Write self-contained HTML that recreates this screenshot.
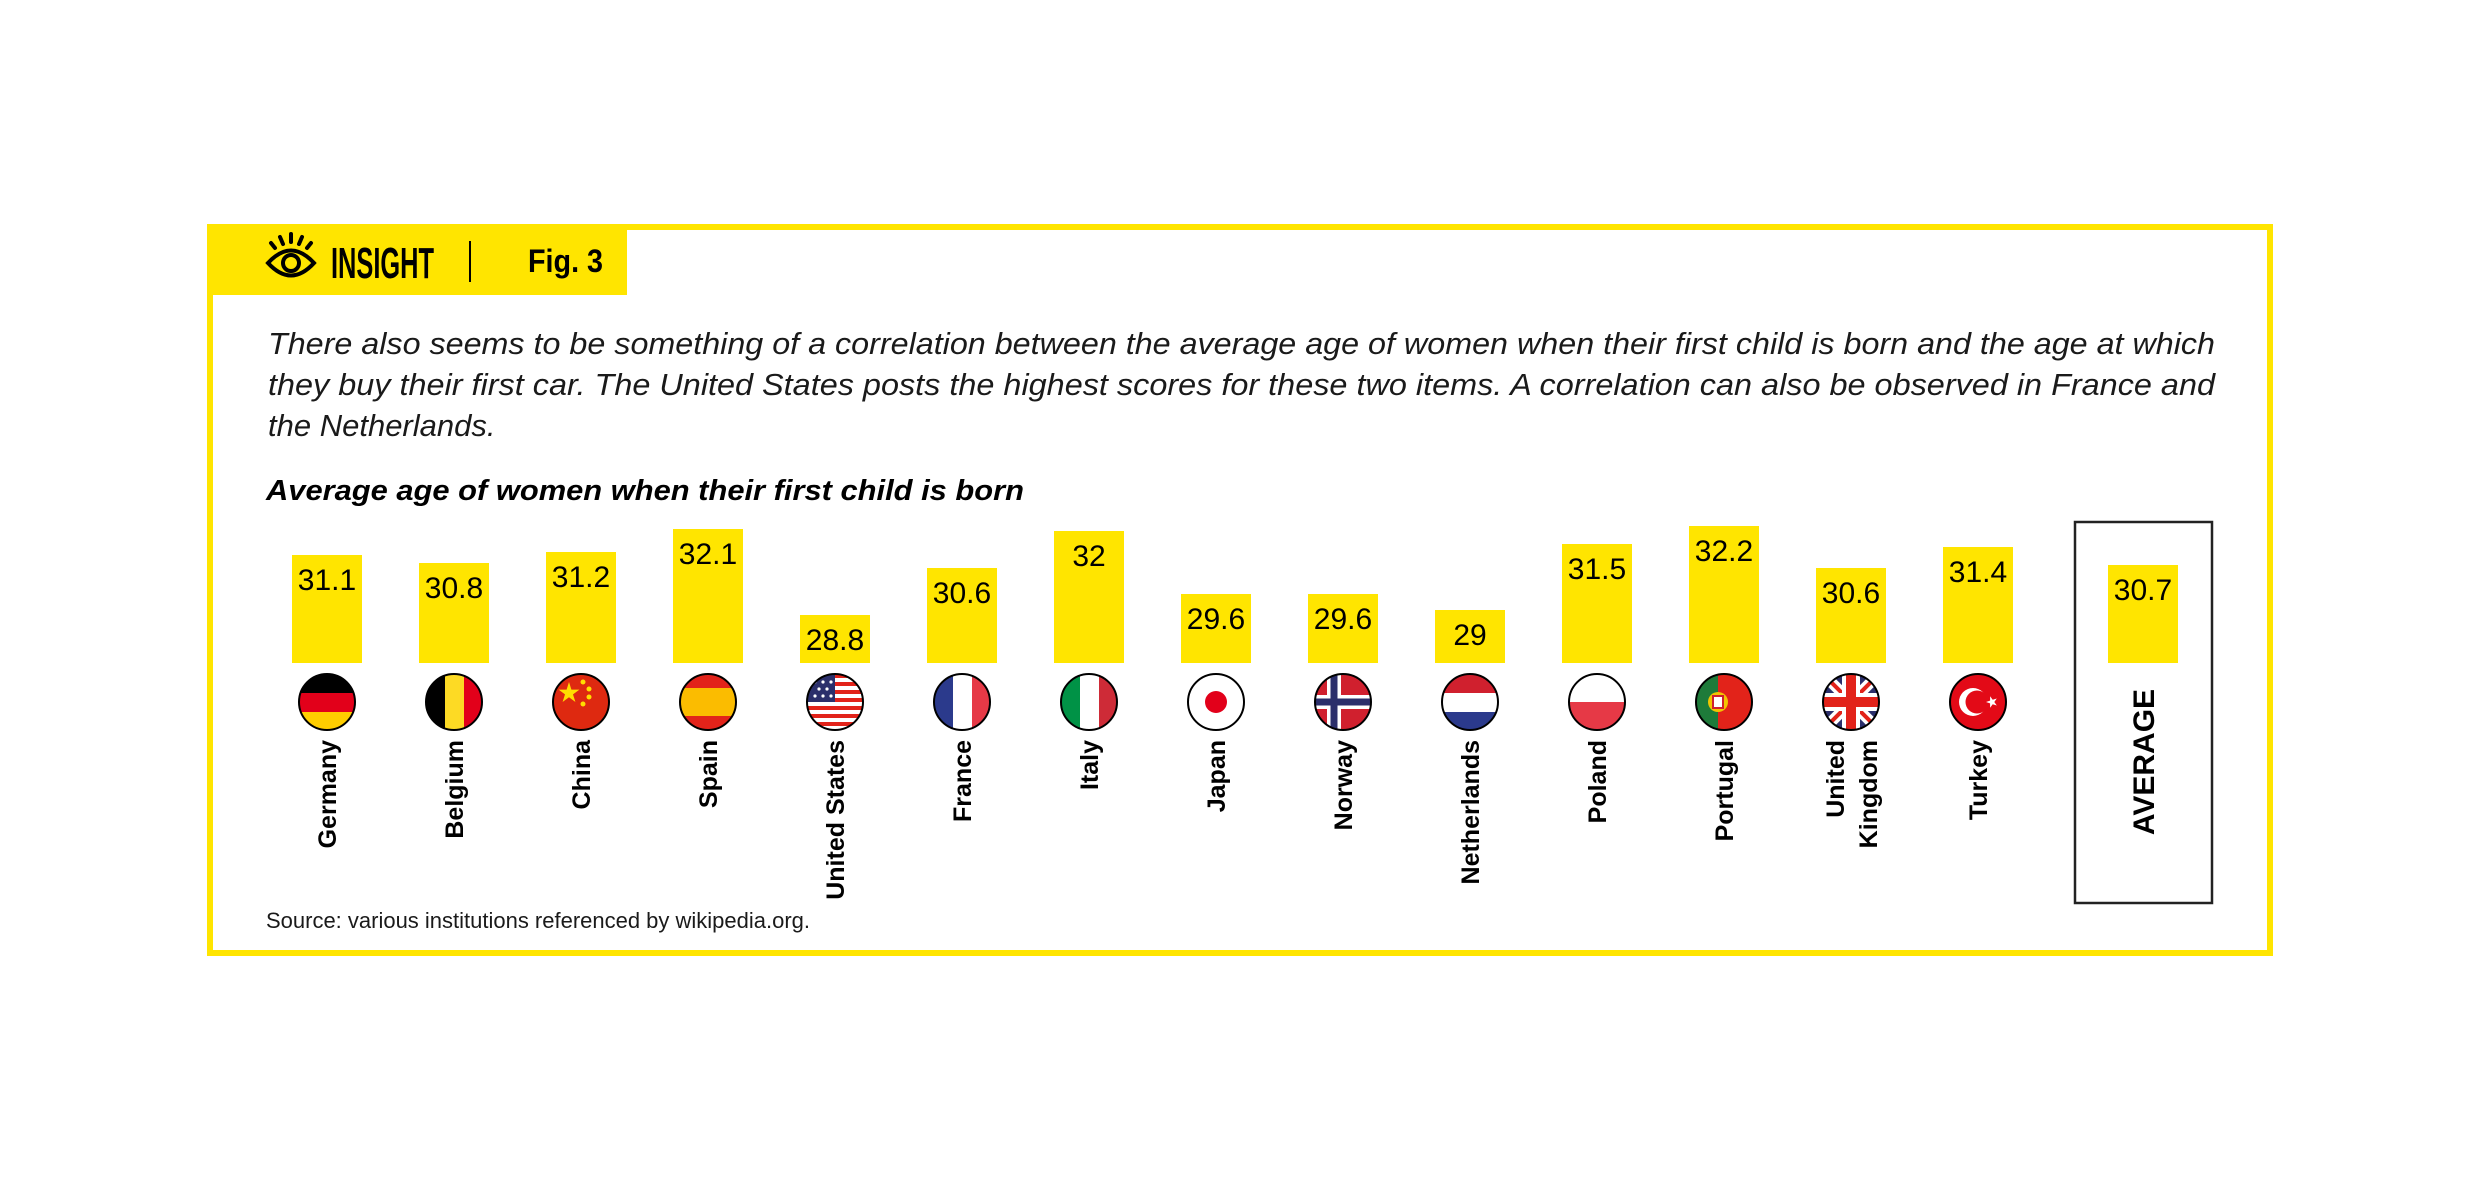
<!DOCTYPE html>
<html><head><meta charset="utf-8"><style>html,body{margin:0;padding:0;background:#fff}svg{display:block}</style></head>
<body>
<svg width="2480" height="1181" viewBox="0 0 2480 1181" xmlns="http://www.w3.org/2000/svg" font-family="Liberation Sans, sans-serif">
<defs><clipPath id="c"><circle cx="0" cy="0" r="28"/></clipPath></defs>
<rect width="2480" height="1181" fill="#fff"/>
<rect x="210" y="227" width="2060" height="726" fill="none" stroke="#FFE500" stroke-width="6"/>
<rect x="207" y="224" width="420" height="71" fill="#FFE500"/>
<g fill="none" stroke="#000" stroke-width="4" stroke-linecap="round">
<path d="M268 263 Q291 238 314 263 Q291 288 268 263 Z"/>
<circle cx="291" cy="263" r="8"/>
<line x1="291" y1="234" x2="291" y2="242"/><line x1="280" y1="237" x2="283" y2="244"/><line x1="302" y1="237" x2="299" y2="244"/><line x1="271" y1="243" x2="275" y2="248"/><line x1="311" y1="243" x2="307" y2="248"/>
</g>
<text x="331" y="278" font-size="44" font-weight="bold" textLength="103" lengthAdjust="spacingAndGlyphs" fill="#000">INSIGHT</text>
<line x1="470" y1="241" x2="470" y2="282" stroke="#000" stroke-width="2"/>
<text x="528" y="272" font-size="32" font-weight="bold" textLength="75" lengthAdjust="spacingAndGlyphs" fill="#000">Fig. 3</text>
<g font-style="italic" font-size="31" fill="#1a1a1a">
<text x="268" y="354" textLength="1947" lengthAdjust="spacingAndGlyphs">There also seems to be something of a correlation between the average age of women when their first child is born and the age at which</text>
<text x="268" y="395" textLength="1947" lengthAdjust="spacingAndGlyphs">they buy their first car. The United States posts the highest scores for these two items. A correlation can also be observed in France and</text>
<text x="268" y="436">the Netherlands.</text>
</g>
<text x="266" y="500" font-size="29" font-weight="bold" font-style="italic" textLength="758" lengthAdjust="spacingAndGlyphs" fill="#000">Average age of women when their first child is born</text>
<rect x="2075" y="522" width="137" height="381" fill="none" stroke="#222" stroke-width="2.5"/>
<g fill="#FFE500">
<rect x="292" y="555" width="70" height="108"/>
<rect x="419" y="563" width="70" height="100"/>
<rect x="546" y="552" width="70" height="111"/>
<rect x="673" y="529" width="70" height="134"/>
<rect x="800" y="615" width="70" height="48"/>
<rect x="927" y="568" width="70" height="95"/>
<rect x="1054" y="531" width="70" height="132"/>
<rect x="1181" y="594" width="70" height="69"/>
<rect x="1308" y="594" width="70" height="69"/>
<rect x="1435" y="610" width="70" height="53"/>
<rect x="1562" y="544" width="70" height="119"/>
<rect x="1689" y="526" width="70" height="137"/>
<rect x="1816" y="568" width="70" height="95"/>
<rect x="1943" y="547" width="70" height="116"/>
<rect x="2108" y="565" width="70" height="98"/>
</g>
<g font-size="30" text-anchor="middle" fill="#000">
<text x="327" y="590">31.1</text>
<text x="454" y="598">30.8</text>
<text x="581" y="587">31.2</text>
<text x="708" y="564">32.1</text>
<text x="835" y="650">28.8</text>
<text x="962" y="603">30.6</text>
<text x="1089" y="566">32</text>
<text x="1216" y="629">29.6</text>
<text x="1343" y="629">29.6</text>
<text x="1470" y="645">29</text>
<text x="1597" y="579">31.5</text>
<text x="1724" y="561">32.2</text>
<text x="1851" y="603">30.6</text>
<text x="1978" y="582">31.4</text>
<text x="2143" y="600">30.7</text>
</g>
<g transform="translate(327,702)"><g clip-path="url(#c)"><rect x="-28" y="-28" width="56" height="19" fill="#000"/><rect x="-28" y="-9" width="56" height="19" fill="#E2001A"/><rect x="-28" y="10" width="56" height="18" fill="#FFCE00"/></g><circle r="28" fill="none" stroke="#000" stroke-width="2"/></g>
<g transform="translate(454,702)"><g clip-path="url(#c)"><rect x="-28" y="-28" width="19" height="56" fill="#000"/><rect x="-9" y="-28" width="19" height="56" fill="#FDDA24"/><rect x="10" y="-28" width="18" height="56" fill="#E2001A"/></g><circle r="28" fill="none" stroke="#000" stroke-width="2"/></g>
<g transform="translate(581,702)"><g clip-path="url(#c)"><rect x="-28" y="-28" width="56" height="56" fill="#DE2910"/><polygon points="-12,-20 -9.6,-12.4 -1.6,-12.4 -8,-7.6 -5.6,0 -12,-4.8 -18.4,0 -16,-7.6 -22.4,-12.4 -14.4,-12.4" fill="#FFDE00"/><circle cx="2" cy="-20" r="2.5" fill="#FFDE00"/><circle cx="8" cy="-13" r="2.5" fill="#FFDE00"/><circle cx="8" cy="-5" r="2.5" fill="#FFDE00"/><circle cx="2" cy="2" r="2.5" fill="#FFDE00"/></g><circle r="28" fill="none" stroke="#000" stroke-width="2"/></g>
<g transform="translate(708,702)"><g clip-path="url(#c)"><rect x="-28" y="-28" width="56" height="56" fill="#E2231A"/><rect x="-28" y="-14" width="56" height="28" fill="#FBBC00"/></g><circle r="28" fill="none" stroke="#000" stroke-width="2"/></g>
<g transform="translate(835,702)"><g clip-path="url(#c)"><rect x="-28" y="-28" width="56" height="56" fill="#fff"/><rect x="-28" y="-28" width="56" height="4" fill="#E2231A"/><rect x="-28" y="-20" width="56" height="4" fill="#E2231A"/><rect x="-28" y="-12" width="56" height="4" fill="#E2231A"/><rect x="-28" y="-4" width="56" height="4" fill="#E2231A"/><rect x="-28" y="4" width="56" height="4" fill="#E2231A"/><rect x="-28" y="12" width="56" height="4" fill="#E2231A"/><rect x="-28" y="20" width="56" height="4" fill="#E2231A"/><rect x="-28" y="-28" width="28" height="28" fill="#2B2F6B"/><g fill="#fff"><circle cx="-20" cy="-20" r="1.6"/><circle cx="-12" cy="-20" r="1.6"/><circle cx="-4" cy="-20" r="1.6"/><circle cx="-16" cy="-13" r="1.6"/><circle cx="-8" cy="-13" r="1.6"/><circle cx="-20" cy="-6" r="1.6"/><circle cx="-12" cy="-6" r="1.6"/><circle cx="-4" cy="-6" r="1.6"/></g></g><circle r="28" fill="none" stroke="#000" stroke-width="2"/></g>
<g transform="translate(962,702)"><g clip-path="url(#c)"><rect x="-28" y="-28" width="19" height="56" fill="#2B3A8C"/><rect x="-9" y="-28" width="19" height="56" fill="#fff"/><rect x="10" y="-28" width="18" height="56" fill="#E63946"/></g><circle r="28" fill="none" stroke="#000" stroke-width="2"/></g>
<g transform="translate(1089,702)"><g clip-path="url(#c)"><rect x="-28" y="-28" width="19" height="56" fill="#009246"/><rect x="-9" y="-28" width="19" height="56" fill="#fff"/><rect x="10" y="-28" width="18" height="56" fill="#CE2B37"/></g><circle r="28" fill="none" stroke="#000" stroke-width="2"/></g>
<g transform="translate(1216,702)"><circle r="28" fill="#fff"/><circle r="11" fill="#E2001A"/><circle r="28" fill="none" stroke="#000" stroke-width="2"/></g>
<g transform="translate(1343,702)"><g clip-path="url(#c)"><rect x="-28" y="-28" width="56" height="56" fill="#D0202E"/><rect x="-16" y="-28" width="14" height="56" fill="#fff"/><rect x="-28" y="-7" width="56" height="14" fill="#fff"/><rect x="-12.5" y="-28" width="7" height="56" fill="#2B2F6B"/><rect x="-28" y="-3.5" width="56" height="7" fill="#2B2F6B"/></g><circle r="28" fill="none" stroke="#000" stroke-width="2"/></g>
<g transform="translate(1470,702)"><g clip-path="url(#c)"><rect x="-28" y="-28" width="56" height="19" fill="#D0202E"/><rect x="-28" y="-9" width="56" height="19" fill="#fff"/><rect x="-28" y="10" width="56" height="18" fill="#2B3A8C"/></g><circle r="28" fill="none" stroke="#000" stroke-width="2"/></g>
<g transform="translate(1597,702)"><g clip-path="url(#c)"><rect x="-28" y="-28" width="56" height="28" fill="#fff"/><rect x="-28" y="0" width="56" height="28" fill="#E63946"/></g><circle r="28" fill="none" stroke="#000" stroke-width="2"/></g>
<g transform="translate(1724,702)"><g clip-path="url(#c)"><rect x="-28" y="-28" width="56" height="56" fill="#E2231A"/><rect x="-28" y="-28" width="22" height="56" fill="#1E7B3A"/><circle cx="-6" cy="0" r="10" fill="#F2C500"/><rect x="-11" y="-6" width="10" height="12" fill="#fff" stroke="#D0202E" stroke-width="2"/></g><circle r="28" fill="none" stroke="#000" stroke-width="2"/></g>
<g transform="translate(1851,702)"><g clip-path="url(#c)"><rect x="-28" y="-28" width="56" height="56" fill="#2B2F6B"/><line x1="-28" y1="-28" x2="28" y2="28" stroke="#fff" stroke-width="11"/><line x1="28" y1="-28" x2="-28" y2="28" stroke="#fff" stroke-width="11"/><line x1="-28" y1="-28" x2="28" y2="28" stroke="#E2231A" stroke-width="4"/><line x1="28" y1="-28" x2="-28" y2="28" stroke="#E2231A" stroke-width="4"/><rect x="-9" y="-28" width="18" height="56" fill="#fff"/><rect x="-28" y="-9" width="56" height="18" fill="#fff"/><rect x="-5" y="-28" width="10" height="56" fill="#E2231A"/><rect x="-28" y="-5" width="56" height="10" fill="#E2231A"/></g><circle r="28" fill="none" stroke="#000" stroke-width="2"/></g>
<g transform="translate(1978,702)"><circle r="28" fill="#E30A17"/><circle cx="-5" cy="0" r="14" fill="#fff"/><circle cx="-1" cy="0" r="11.5" fill="#E30A17"/><polygon points="14,-6 15.4,-1.9 19.7,-1.9 16.2,0.7 17.5,4.8 14,2.3 10.5,4.8 11.8,0.7 8.3,-1.9 12.6,-1.9" fill="#fff" transform="rotate(-90 14 0)"/><circle r="28" fill="none" stroke="#000" stroke-width="2"/></g>
<g font-size="25" font-weight="bold" text-anchor="end" fill="#000">
<text transform="translate(336,740) rotate(-90)">Germany</text>
<text transform="translate(463,740) rotate(-90)">Belgium</text>
<text transform="translate(590,740) rotate(-90)">China</text>
<text transform="translate(717,740) rotate(-90)">Spain</text>
<text transform="translate(844,740) rotate(-90)">United States</text>
<text transform="translate(971,740) rotate(-90)">France</text>
<text transform="translate(1098,740) rotate(-90)">Italy</text>
<text transform="translate(1225,740) rotate(-90)">Japan</text>
<text transform="translate(1352,740) rotate(-90)">Norway</text>
<text transform="translate(1479,740) rotate(-90)">Netherlands</text>
<text transform="translate(1606,740) rotate(-90)">Poland</text>
<text transform="translate(1733,740) rotate(-90)">Portugal</text>
<text transform="translate(1844,740) rotate(-90)">United</text>
<text transform="translate(1877,740) rotate(-90)">Kingdom</text>
<text transform="translate(1987,740) rotate(-90)">Turkey</text>
</g>
<text transform="translate(2154,762) rotate(-90)" font-size="30" font-weight="600" text-anchor="middle" fill="#000">AVERAGE</text>
<text x="266" y="928" font-size="22" textLength="544" lengthAdjust="spacingAndGlyphs" fill="#1a1a1a">Source: various institutions referenced by wikipedia.org.</text>
</svg>
</body></html>
